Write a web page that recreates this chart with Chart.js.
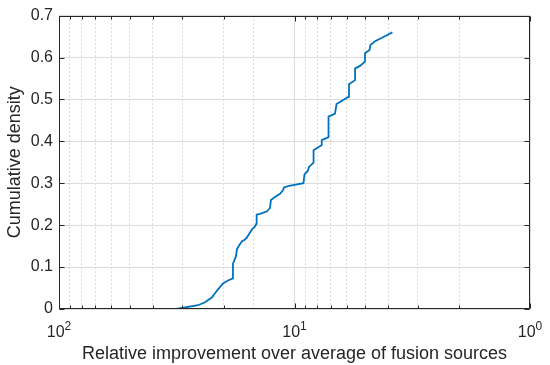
<!DOCTYPE html>
<html>
<head>
<meta charset="utf-8">
<script src="https://cdn.jsdelivr.net/npm/chart.js@4/dist/chart.umd.min.js"></script>
<style>
  html, body { margin: 0; padding: 0; background: #ffffff; }
  #wrap { width: 550px; height: 365px; }
</style>
</head>
<body>
<div id="wrap"><canvas id="c" width="550" height="365"></canvas></div>
<script>
// ---- data ----
const improvement = [31.86, 25.69, 23.99, 22.40, 21.33, 20.12, 19.16, 18.25, 18.25, 17.72,
  17.55, 17.03, 16.70, 16.22, 15.91, 15.15, 14.71, 14.50, 14.48, 14.01,
  13.08, 12.71, 12.59, 12.10, 11.52, 11.19, 11.08, 10.55, 9.16, 9.07,
  8.77, 8.68, 8.30, 8.30, 7.66, 7.66, 7.17, 7.17, 6.73, 6.63,
  5.91, 5.87, 5.53, 5.53, 5.27, 5.02, 5.02, 4.80, 4.76, 4.55,
  4.25, 3.84];
const density = [0.000, 0.009, 0.016, 0.028, 0.044, 0.061, 0.068, 0.073, 0.108, 0.126,
  0.143, 0.155, 0.162, 0.166, 0.171, 0.190, 0.197, 0.204, 0.225, 0.227,
  0.233, 0.241, 0.260, 0.267, 0.275, 0.283, 0.290, 0.294, 0.300, 0.321,
  0.330, 0.339, 0.349, 0.379, 0.391, 0.403, 0.410, 0.459, 0.466, 0.489,
  0.506, 0.536, 0.546, 0.574, 0.580, 0.590, 0.610, 0.618, 0.630, 0.639,
  0.647, 0.660];

const xMajorValues = [100, 10, 1];
const xMajorBase = '10';
const xMajorExponents = ['2', '1', '0'];
const xMinorValues = [90, 80, 70, 60, 50, 40, 30, 20, 9, 8, 7, 6, 5, 4, 3, 2];
const yTickValues = [0, 0.1, 0.2, 0.3, 0.4, 0.5, 0.6, 0.7];
const yTickLabels = ['0', '0.1', '0.2', '0.3', '0.4', '0.5', '0.6', '0.7'];
const xTitle = 'Relative improvement over average of fusion sources';
const yTitle = 'Cumulative density';

// ---- styling ----
const AXIS = '#262626';
const FONT = "'Liberation Sans', Arial, Helvetica, sans-serif";
const MAJOR_GRID = '#dcdcdc';
const MINOR_GRID = '#b8b8b8';

function isMajorValue(v) {
  const l = Math.log10(v);
  return Math.abs(l - Math.round(l)) < 1e-6;
}

const boxPlugin = {
  id: 'matlabBox',
  afterDraw(chart) {
    const { ctx, chartArea: a, scales: { x, y } } = chart;
    ctx.save();
    ctx.strokeStyle = AXIS;
    ctx.lineWidth = 1;
    ctx.setLineDash([]);
    const L = Math.round(a.left) + 0.5, R = Math.round(a.right) - 0.5;
    const T = Math.round(a.top) + 0.5, B = Math.round(a.bottom) - 0.5;
    ctx.beginPath();
    xMajorValues.forEach(v => {
      const p = Math.round(x.getPixelForValue(v)) + 0.5;
      ctx.moveTo(p, B); ctx.lineTo(p, B - 5);
      ctx.moveTo(p, T); ctx.lineTo(p, T + 5);
    });
    xMinorValues.forEach(v => {
      const p = Math.round(x.getPixelForValue(v)) + 0.5;
      ctx.moveTo(p, B); ctx.lineTo(p, B - 3);
      ctx.moveTo(p, T); ctx.lineTo(p, T + 3);
    });
    yTickValues.forEach(v => {
      const p = Math.round(y.getPixelForValue(v)) + 0.5;
      ctx.moveTo(L, p); ctx.lineTo(L + 5, p);
      ctx.moveTo(R, p); ctx.lineTo(R - 5, p);
    });
    ctx.stroke();
    ctx.strokeRect(L, T, R - L, B - T);

    // x tick labels: 10 with superscript exponent
    ctx.fillStyle = AXIS;
    ctx.textBaseline = 'alphabetic';
    ctx.textAlign = 'left';
    xMajorValues.forEach((v, i) => {
      const p = x.getPixelForValue(v);
      ctx.font = '16px ' + FONT;
      const wb = ctx.measureText(xMajorBase).width;
      ctx.font = '12px ' + FONT;
      const we = ctx.measureText(xMajorExponents[i]).width;
      const left = p - (wb + we) / 2;
      ctx.font = '16px ' + FONT;
      ctx.fillText(xMajorBase, left, a.bottom + 28);
      ctx.font = '12px ' + FONT;
      ctx.fillText(xMajorExponents[i], left + wb, a.bottom + 21);
    });
    ctx.restore();
  }
};

new Chart(document.getElementById('c'), {
  type: 'scatter',
  data: {
    datasets: [{
      data: improvement.map((v, i) => ({ x: v, y: density[i] })),
      showLine: true,
      borderColor: '#0072BD',
      borderWidth: 1.8,
      pointRadius: 0,
      pointHoverRadius: 0,
      fill: false,
      tension: 0
    }]
  },
  options: {
    responsive: false,
    devicePixelRatio: 1,
    animation: false,
    events: [],
    layout: { padding: { left: 0, right: 20, top: 10, bottom: 0 } },
    plugins: { legend: { display: false }, tooltip: { enabled: false } },
    scales: {
      x: {
        type: 'logarithmic',
        reverse: true,
        min: 1,
        max: 100,
        ticks: { display: false },
        grid: {
          drawTicks: false,
          lineWidth: 1,
          color: c => (c.tick && isMajorValue(c.tick.value)) ? MAJOR_GRID : MINOR_GRID
        },
        border: {
          display: false,
          dash: c => (c.tick && !isMajorValue(c.tick.value)) ? [1, 3] : []
        },
        title: {
          display: true,
          text: xTitle,
          color: AXIS,
          font: { size: 18, family: FONT },
          padding: { top: 0, bottom: 0 }
        },
        afterFit: s => { s.height = 56; }
      },
      y: {
        min: 0,
        max: 0.7,
        ticks: {
          stepSize: 0.1,
          padding: 6,
          color: AXIS,
          font: { size: 16, family: FONT },
          callback: v => {
            const k = yTickValues.findIndex(t => Math.abs(t - v) < 1e-9);
            return k >= 0 ? yTickLabels[k] : '';
          }
        },
        grid: { drawTicks: false, color: MAJOR_GRID, lineWidth: 1 },
        border: { display: false },
        title: {
          display: true,
          text: yTitle,
          color: AXIS,
          font: { size: 18, family: FONT },
          padding: { top: 4, bottom: 0 }
        },
        afterFit: s => { s.width = 59; }
      }
    }
  },
  plugins: [boxPlugin]
});
</script>
</body>
</html>
